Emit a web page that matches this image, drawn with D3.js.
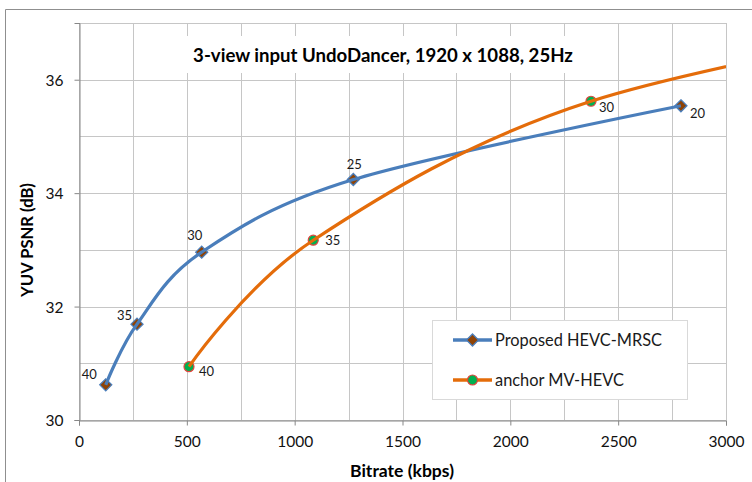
<!DOCTYPE html>
<html><head><meta charset="utf-8">
<script src="https://cdn.jsdelivr.net/npm/d3@7"></script>
<style>body{margin:0;background:#fff}svg{display:block}</style>
</head><body>
<script>
// ---- data ----
const titleText = "3-view input UndoDancer, 1920 x 1088, 25Hz";
const xAxisTitle = "Bitrate (kbps)";
const yAxisTitle = "YUV PSNR (dB)";
const xTicks = [0, 500, 1000, 1500, 2000, 2500, 3000];
const yTicks = [30, 32, 34, 36];
const seriesNames = ["Proposed HEVC-MRSC", "anchor MV-HEVC"];
const proposedBitrate = [124, 269, 569, 1272, 2791];
const proposedPSNR = [30.62, 31.69, 32.96, 34.24, 35.54];
const proposedQP = ["40", "35", "30", "25", "20"];
const anchorBitrate = [510, 1086, 2374, 4500];
const anchorPSNR = [30.94, 33.17, 35.62, 37.35];
const anchorQP = ["40", "35", "30", "25"];

// ---- layout / style ----
const W = 752, H = 482;
const L = 79, R = 726, T = 23, B = 420;
const blue = "#4A7EBB", orange = "#E46C0A";
const grid = "#C6C6C6", axisCol = "#878787";
const FONT = "Lato, 'Open Sans', sans-serif";

// label placement per point: [anchor, dx, dy]
const proposedLabelPos = [["end",-9,-10],["end",-5,-9],["middle",-7,-17],["middle",1,-15],["start",9,8]];
const anchorLabelPos = [["start",10,5],["start",12,0],["start",8,6],["start",8,6]];

const svg = d3.select("body").append("svg").attr("width", W).attr("height", H);
svg.append("rect").attr("width", W).attr("height", H).attr("fill", "#fff");
svg.append("path").attr("d", `M5.5,${H} V9.5 H${W}`).attr("fill","none").attr("stroke","#8f8f8f");

const x = d3.scaleLinear().domain([0, 3000]).range([L, R]);
const y = d3.scaleLinear().domain([30, 37]).range([B, T]);

// gridlines
const gx = d3.range(0, 3001, 250), gy = d3.range(30, 37.01, 1);
svg.append("g").selectAll("line").data(gx).join("line")
  .attr("x1", d => Math.round(x(d)) + 0.5).attr("x2", d => Math.round(x(d)) + 0.5)
  .attr("y1", T).attr("y2", B).attr("stroke", grid);
svg.append("g").selectAll("line").data(gy).join("line")
  .attr("y1", d => Math.round(y(d)) + 0.5).attr("y2", d => Math.round(y(d)) + 0.5)
  .attr("x1", L).attr("x2", R).attr("stroke", grid);

// title box
svg.append("rect").attr("x", 183).attr("y", 36).attr("width", 400).attr("height", 37).attr("fill", "#fff");

function fit(sel, target) {
  const n = sel.node(); const s = parseFloat(sel.attr("font-size"));
  const w = n.getComputedTextLength(); if (w > 0) sel.attr("font-size", (s * target / w).toFixed(2));
}

const title = svg.append("text").attr("x", 383).attr("y", 62).attr("text-anchor","middle")
  .attr("font-family", FONT).attr("font-weight","bold").attr("font-size", 17).attr("fill","#000").text(titleText);
fit(title, 380);

// axes
const xAxis = d3.axisBottom(x).tickValues(xTicks).tickSize(5).tickPadding(10).tickFormat(d3.format("d"));
const gxA = svg.append("g").attr("transform", `translate(0,${B + 0.5})`).call(xAxis);
const yAxis = d3.axisLeft(y).tickValues(yTicks).tickSize(5).tickPadding(11).tickFormat(d3.format("d"));
const gyA = svg.append("g").attr("transform", `translate(${L + 0.5},0)`).call(yAxis);
[gxA, gyA].forEach(g => {
  g.select(".domain").attr("stroke", axisCol);
  g.selectAll(".tick line").attr("stroke", axisCol);
  g.selectAll("text").attr("font-family", FONT).attr("font-size", 15.5).attr("fill", "#111");
});
gyA.selectAll("text").attr("dy", "0.36em");

const xt = svg.append("text").attr("x", 402).attr("y", 477).attr("text-anchor","middle")
  .attr("font-family", FONT).attr("font-weight","bold").attr("font-size", 14).text(xAxisTitle);
fit(xt, 104);
const yt = svg.append("text").attr("transform", "translate(33,240) rotate(-90)").attr("text-anchor","middle")
  .attr("font-family", FONT).attr("font-weight","bold").attr("font-size", 14).text(yAxisTitle);
fit(yt, 114);

// clip
svg.append("clipPath").attr("id","plotclip").append("rect").attr("x", L).attr("y", T - 6).attr("width", R - L).attr("height", B - T + 6);
const plot = svg.append("g").attr("clip-path","url(#plotclip)");
svg.append("clipPath").attr("id","lineclip").append("rect").attr("x", L).attr("y", T).attr("width", R - L).attr("height", B - T);

const line = d3.line().x(d => x(d[0])).y(d => y(d[1])).curve(d3.curveCardinal.tension(0));
const prop = proposedBitrate.map((b, i) => [b, proposedPSNR[i], proposedQP[i]]);
const anch = anchorBitrate.map((b, i) => [b, anchorPSNR[i], anchorQP[i]]);

const lines = svg.append("g").attr("clip-path","url(#lineclip)");
lines.append("path").datum(prop).attr("d", line).attr("fill","none").attr("stroke", blue).attr("stroke-width", 3.2);
lines.append("path").datum(anch).attr("d", line).attr("fill","none").attr("stroke", orange).attr("stroke-width", 3.2);

function diamondPath(cx, cy, r) { return `M${cx},${cy - r}L${cx + r},${cy}L${cx},${cy + r}L${cx - r},${cy}Z`; }

const inside = d => d[0] <= 3000 && d[1] <= 37;
plot.selectAll(".pm").data(prop.filter(inside)).join("path")
  .attr("d", d => diamondPath(x(d[0]), y(d[1]), 6)).attr("fill", "#8E4306").attr("stroke", blue).attr("stroke-width", 1.3);
plot.selectAll(".am").data(anch.filter(inside)).join("circle")
  .attr("cx", d => x(d[0])).attr("cy", d => y(d[1])).attr("r", 5).attr("fill", "#00B050").attr("stroke", "#E0453F").attr("stroke-width", 1.2);

function labels(data, pos) {
  plot.append("g").selectAll("text").data(data.map((d, i) => [d, pos[i]]).filter(p => inside(p[0]))).join("text")
    .attr("x", p => x(p[0][0]) + p[1][1]).attr("y", p => y(p[0][1]) + p[1][2] + 4.5)
    .attr("text-anchor", p => p[1][0])
    .attr("font-family", FONT).attr("font-size", 13).attr("fill", "#1a1a1a").text(p => p[0][2]);
}
labels(prop, proposedLabelPos);
labels(anch, anchorLabelPos);

// legend
const lg = svg.append("g");
lg.append("rect").attr("x", 432.5).attr("y", 320.5).attr("width", 255).attr("height", 79).attr("fill","#fff").attr("stroke","#D9D9D9");
const legendRows = [340, 380];
[0, 1].forEach(i => {
  const yy = legendRows[i];
  lg.append("line").attr("x1", 453).attr("x2", 492).attr("y1", yy).attr("y2", yy)
    .attr("stroke", i ? orange : blue).attr("stroke-width", 3.5);
  if (i === 0) lg.append("path").attr("d", diamondPath(472.5, yy, 6)).attr("fill","#8E4306").attr("stroke", blue).attr("stroke-width", 1.3);
  else lg.append("circle").attr("cx", 472.5).attr("cy", yy).attr("r", 5).attr("fill","#00B050").attr("stroke","#E0453F").attr("stroke-width", 1.2);
  const t = lg.append("text").attr("x", 495).attr("y", yy + 5.5).attr("font-family", FONT).attr("font-size", 16).attr("fill","#1a1a1a").text(seriesNames[i]);
  fit(t, i ? 129 : 167);
});
</script>
</body></html>
